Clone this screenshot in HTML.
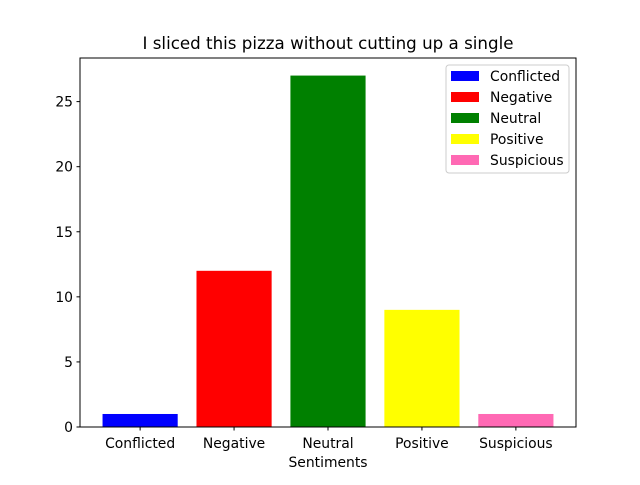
<!DOCTYPE html>
<html><head><meta charset="utf-8"><style>
body{margin:0;background:#fff;}
svg text{font-family:"DejaVu Sans","Liberation Sans",sans-serif;}
</style></head><body>
<svg id="chart" width="640" height="480" xmlns="http://www.w3.org/2000/svg">
<rect width="640" height="480" fill="#fff"/>
<text x="328" y="49" font-size="16.7" text-anchor="middle">I sliced this pizza without cutting up a single</text>
<g id="bars"></g>
<g id="yticks"></g>
<g id="xticks"></g>
<rect x="80" y="58" width="496" height="369" fill="none" stroke="#000" stroke-width="1"/>
<text x="328" y="467" font-size="13.9" text-anchor="middle">Sentiments</text>
<g id="legend"></g>
</svg>
<script>
const categories=["Conflicted","Negative","Neutral","Positive","Suspicious"];
const values=[1,12,27,9,1];
const colors=["#0000ff","#ff0000","#008000","#ffff00","#ff69b4"];
const yTicks=[0,5,10,15,20,25];
const NS="http://www.w3.org/2000/svg";
const L=80,R=576,T=58,B=427;
const ymax=Math.max(...values)*1.05;
const xmin=-0.64,xmax=categories.length-1+0.64;
const y=v=>B-(v/ymax)*(B-T);
const x=i=>L+(i-xmin)/(xmax-xmin)*(R-L);
const bw=0.8*(R-L)/(xmax-xmin);
function mk(t,a,p){const e=document.createElementNS(NS,t);for(const k in a)e.setAttribute(k,a[k]);p.appendChild(e);return e;}
const gb=document.getElementById('bars'),gy=document.getElementById('yticks'),gx=document.getElementById('xticks'),gl=document.getElementById('legend');
values.forEach((v,i)=>{
 const r=mk('rect',{x:x(i)-bw/2,y:y(v),width:bw,height:B-y(v),fill:colors[i]},gb);
 
 
});
yTicks.forEach(t=>{
 const l=mk('line',{x1:L-3.5,x2:L,y1:y(t),y2:y(t),stroke:'#000'},gy);
 
 
 const tx=mk('text',{x:L-7,y:y(t)+5,'font-size':13.9,'text-anchor':'end'},gy);
 tx.textContent=t;
 
 
});
categories.forEach((c,i)=>{
 const l=mk('line',{x1:x(i),x2:x(i),y1:B,y2:B+3.5,stroke:'#000'},gx);
 
 
 const tx=mk('text',{x:x(i),y:B+21,'font-size':13.9,'text-anchor':'middle'},gx);
 tx.textContent=c;
 
 
});
const lb=mk('rect',{x:446,y:65,width:123,height:108,fill:'#fff',stroke:'#ccc',rx:3},gl);


categories.forEach((c,i)=>{
 const yy=76+i*21;
 const p=mk('rect',{x:451,y:yy-5,width:28,height:10,fill:colors[i]},gl);
 
 
 const tx=mk('text',{x:490,y:yy+5,'font-size':13.9},gl);
 tx.textContent=c;
 
 
});
</script>
</body></html>
